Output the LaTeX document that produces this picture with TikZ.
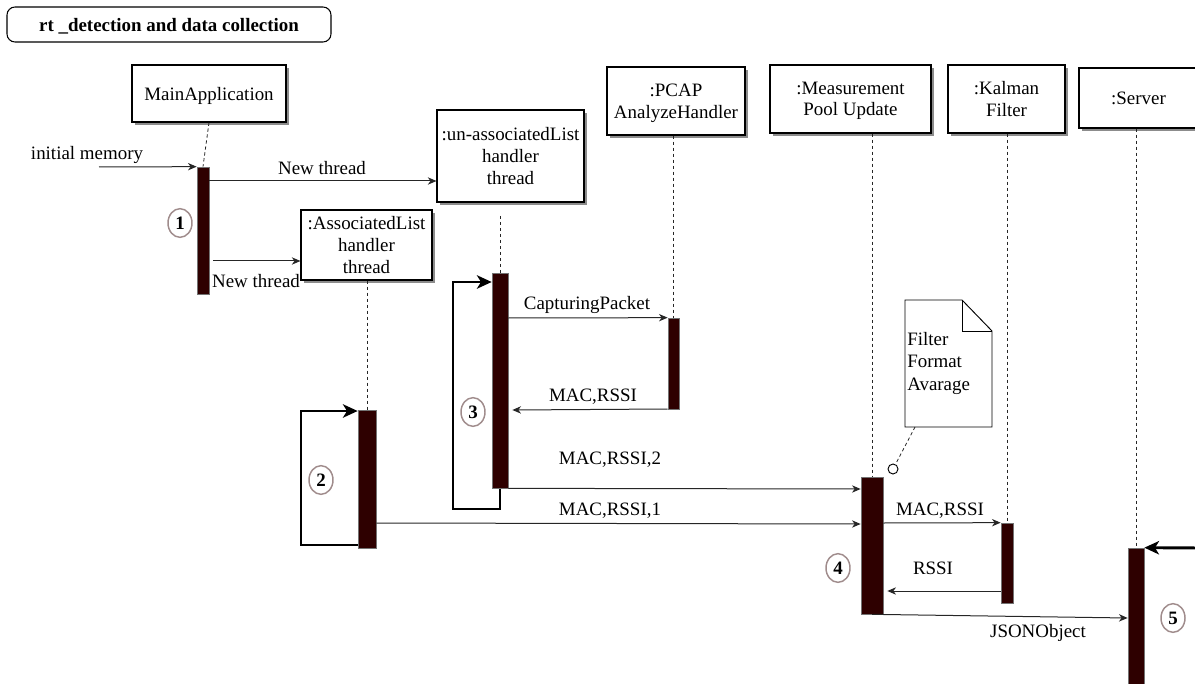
\documentclass[tikz,border=0pt]{standalone}
\usepackage{fontspec}
\setmainfont{Liberation Serif}
\usetikzlibrary{arrows.meta,shadows,fit,calc,shapes.geometric}
\definecolor{barfill}{HTML}{2E0000}
\definecolor{ringcol}{HTML}{A08C8C}

\begin{document}
\begin{tikzpicture}[x=0.75pt,y=-0.75pt,
  txt/.style={font=\fontsize{14.2}{16.2}\selectfont},
  every node/.style={txt},
  obj/.style={draw=black, fill=white, line width=0.8pt, inner sep=0pt, align=center, text depth=0pt,
    drop shadow={shadow xshift=2.2pt, shadow yshift=-2.2pt, fill=black!45, opacity=1}},
  actbar/.style={draw=black!55, fill=barfill, line width=0.5pt, inner sep=0pt},
  lifeline/.style={draw=black!85, line width=0.6pt, dash pattern=on 2.5pt off 2pt},
  msg/.style={draw=black!85, line width=0.75pt, -{Stealth[length=6.5pt,width=5.5pt,inset=2pt]}},
  selfloop/.style={draw=black, line width=2.2pt, -{Stealth[length=11pt,width=10pt,inset=3pt]}},
  ring/.style={ellipse, draw=ringcol, line width=1.1pt, inner sep=0pt, minimum width=18pt,
    minimum height=21.5pt, font=\fontsize{14.2}{16.2}\selectfont\bfseries},
  lbl/.style={inner sep=0pt}
]
\useasboundingbox (0,0) rectangle (1195,684);
\clip (0,0) rectangle (1195,684);

% frame title
\node[draw=black, line width=0.8pt, rounded corners=6pt, inner sep=0pt, text depth=0pt,
  minimum width=243pt, minimum height=26.25pt,
  font=\fontsize{14.2}{16.2}\selectfont\bfseries] (title) at (169,24.5)
  {rt \_detection and data collection};

% participants
\node[obj, minimum width=115.5pt, minimum height=42.75pt] (main) at (209,93.5) {MainApplication};
\node[obj, minimum width=110.25pt, minimum height=69pt] (unassoc) at (510.5,156) {:un-associatedList\\handler\\thread};
\node[obj, minimum width=98.25pt, minimum height=52.5pt] (assoc) at (366.5,245) {:AssociatedList\\handler\\thread};
\node[obj, minimum width=103.5pt, minimum height=51pt] (pcap) at (676,101) {:PCAP\\AnalyzeHandler};
\node[obj, minimum width=120.75pt, minimum height=51pt] (meas) at (850.5,99) {:Measurement\\Pool Update};
\node[obj, minimum width=87.75pt, minimum height=51pt] (kalman) at (1006.5,99) {:Kalman\\Filter};
\node[obj, minimum width=89.25pt, minimum height=45pt] (server) at (1138.5,98) {:Server};

% self loops (drawn under the activation bars)
\node[actbar, fit={(492,273) (508,488)}] (b3) {};
\node[actbar, fit={(358,410) (376,548)}] (b2) {};
\draw[selfloop] (b3.south) |- (453,509) |- (b3.west |- 0,282);
\draw[selfloop] (b2.center |- 0,545) -- (301,545) |- (b2.west |- 0,411);

% activation bars
\node[actbar, fit={(197,167) (209,294)}] (b1) {};
\node[actbar, fit={(492,273) (508,488)}] (b3top) {};
\node[actbar, fit={(358,410) (376,548)}] (b2top) {};
\node[actbar, fit={(668,318) (679,409)}] (bp) {};
\node[actbar, fit={(861,477) (883,614)}] (b4) {};
\node[actbar, fit={(1001,523) (1013,603)}] (bk) {};
\node[actbar, fit={(1128,548) (1144,690)}] (b5) {};

% lifelines
\draw[lifeline] (main.south) -- (b1.north);
\draw[lifeline] ([yshift=-10pt]b3.north |- unassoc.south) -- (b3.north);
\draw[lifeline] (b2.north |- assoc.south) -- (b2.north);
\draw[lifeline] (bp.north |- pcap.south) -- (bp.north);
\draw[lifeline] (b4.north |- meas.south) -- (b4.north);
\draw[lifeline] (bk.north |- kalman.south) -- (bk.north);
\draw[lifeline] (b5.north |- server.south) -- (b5.north);

% messages
\coordinate (entry) at (99,167);
\draw[msg] (entry) -- (b1.north west);
\node[lbl] (l0) at (87,155) {initial memory};

\draw[msg] (b1.east |- 0,181) -- (unassoc.west |- 0,181);
\node[lbl] (l1) at (322,168) {New thread};

\draw[msg] ($(b1.east |- 0,261)+(4,0)$) -- (assoc.west |- 0,261);
\node[lbl] (l2) at (256,281) {New thread};

\draw[msg] (b3.east |- 0,318) -- (bp.north west);
\node[lbl] (l3) at (587,305) {CapturingPacket};

\draw[msg] (bp.west |- 0,409) -- ($(b3.east |- 0,410)+(4,0)$);
\node[lbl] (l4) at (593,397) {MAC,RSSI};

\draw[msg] (b3.south east) -- (b4.west |- 0,489);
\node[lbl] (l5) at (610,460) {MAC,RSSI,2};

\draw[msg] (b2.east |- 0,523) -- (b4.west |- 0,524);
\node[lbl] (l6) at (610,511) {MAC,RSSI,1};

\draw[msg] (b4.east |- 0,523) -- (bk.north west);
\node[lbl] (l7) at (940,511) {MAC,RSSI};

\draw[msg] (bk.west |- 0,591) -- ($(b4.east |- 0,591)+(4,0)$);
\node[lbl] (l8) at (933,568) {RSSI};

\draw[msg] (b4.south) -- (b5.west |- 0,618);
\node[lbl] (l9) at (1038,633) {JSONObject};

\coordinate (srvin) at (1200,548);
\draw[selfloop] (srvin) -- (b5.north east);

% step markers
\node[ring] (c1) at (180,223) {1};
\node[ring] (c2) at (321,480) {2};
\node[ring] (c3) at (473,412) {3};
\node[ring] (c4) at (838,568) {4};
\node[ring] (c5) at (1173,618) {5};

% note
\draw[line width=0.7pt, fill=white] (905,300) -- (962,300) -- (992,331) -- (992,427) -- (905,427) -- cycle;
\draw[line width=0.7pt] (962,300) -- (962,331) -- (992,331);
\node[lbl, anchor=north west, align=left, font=\fontsize{14.2}{16.9}\selectfont] (note) at (907,332) {Filter\\Format\\Avarage};
\coordinate (notefoot) at (915,427);
\node[circle, draw=black, line width=0.7pt, minimum size=7.5pt, inner sep=0pt, fill=white] (anchor4) at (893,469) {};
\draw[lifeline] (notefoot) -- (anchor4);
\end{tikzpicture}
\end{document}
